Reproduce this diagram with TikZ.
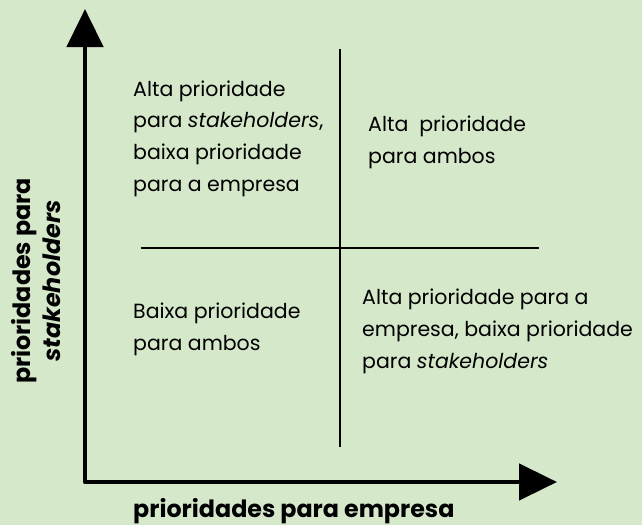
\documentclass[tikz,border=0pt]{standalone}
\usepackage{fontspec}
\setmainfont{Poppins}
\usetikzlibrary{arrows.meta}
\definecolor{bg}{HTML}{D5E8CA}
\tikzset{
  quad/.style={anchor=base west, align=left, font=\fontsize{20.5}{31.6}\selectfont, inner sep=0pt},
  axislbl/.style={font=\bfseries\fontsize{23.8}{30}\selectfont, inner sep=0pt},
  axis/.style={line width=4.7pt, line join=round, line cap=round},
  divider/.style={line width=1.6pt},
  bigtri/.tip={Triangle[length=38pt,width=36pt]}
}
\begin{document}
\begin{tikzpicture}[x=1pt,y=-1pt]
\fill[bg] (0,0) rectangle (642,525);
\useasboundingbox (0,0) rectangle (642,525);
\coordinate (ytip) at (85,9);
\coordinate (origin) at (85,482);
\coordinate (xtip) at (557,482);
\coordinate (vtop) at (340,49);
\coordinate (vbot) at (340,447);
\coordinate (hleft) at (140.5,248);
\coordinate (hright) at (539,248);
\draw[divider] (vtop) -- (vbot);
\draw[divider] (hleft) -- (hright);
\draw[axis, bigtri-bigtri] (ytip) -- (origin) -- (xtip);
\node[quad] (tl) at (133,191) {Alta prioridade\\para \textit{stakeholders},\\baixa prioridade\\para a empresa};
\node[quad] (tr) at (368,163) {Alta\ \ prioridade\\para ambos};
\node[quad] (bl) at (133,350) {Baixa prioridade\\para ambos};
\node[quad] (br) at (362,368) {Alta prioridade para a\\empresa, baixa prioridade\\para \textit{stakeholders}};
\node[axislbl, anchor=base west] (xl) at (133,517) {prioridades para empresa};
\node[axislbl, rotate=90, align=center] (yl) at (36,281) {prioridades para\\\textit{stakeholders}};
\end{tikzpicture}
\end{document}
